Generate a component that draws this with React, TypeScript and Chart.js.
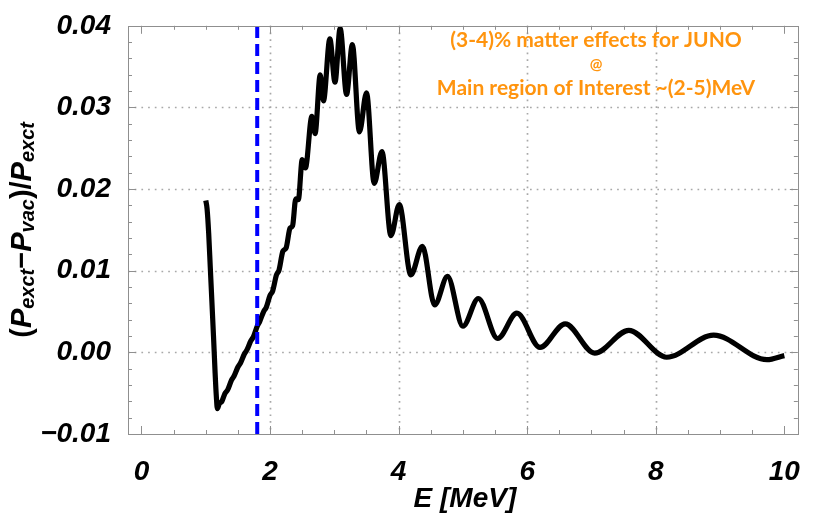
import React, { useEffect, useRef } from "react";
import { Chart, registerables } from "chart.js";

Chart.register(...registerables);

// Neutrino energy (MeV) and relative matter effect (P_exct - P_vac)/P_exct
const energyMeV = [
  1.0, 1.02, 1.045, 1.07, 1.095, 1.12, 1.145, 1.165, 1.18,
  1.21, 1.25, 1.3, 1.34, 1.4, 1.44, 1.5, 1.54, 1.6, 1.64, 1.7, 1.74,
  1.8, 1.84, 1.9, 1.94, 2.0, 2.04, 2.1, 2.14, 2.2, 2.25, 2.31, 2.35,
  2.4, 2.44, 2.5, 2.55, 2.65, 2.7, 2.78, 2.83, 2.93, 3.01, 3.09, 3.19,
  3.28, 3.39, 3.5, 3.62, 3.74, 3.88, 4.01, 4.19, 4.37, 4.56, 4.76, 5.0,
  5.24, 5.54, 5.84, 6.2, 6.59, 7.05, 7.58, 8.17, 8.9, 9.73, 10.0,
];
const relativeEffect = [
  0.0186, 0.0176, 0.0146, 0.0104, 0.0062, 0.002, -0.0025, -0.0055, -0.0069,
  -0.0063, -0.006, -0.005, -0.0046, -0.0034, -0.0029, -0.0018, -0.0013, -0.0002, 0.0003, 0.0014, 0.0019,
  0.0032, 0.0038, 0.005, 0.0055, 0.007, 0.0075, 0.0095, 0.0101, 0.0124, 0.0128, 0.0152, 0.0155,
  0.0188, 0.0187, 0.0236, 0.0226, 0.0289, 0.0268, 0.034, 0.0308, 0.0384, 0.0331, 0.0397, 0.0316,
  0.0377, 0.027, 0.0318, 0.0207, 0.0246, 0.0143, 0.0181, 0.0095, 0.013, 0.0058, 0.0093, 0.0032,
  0.0066, 0.0017, 0.0048, 0.0006, 0.0035, -0.0001, 0.0027, -0.0006, 0.0021, -0.0009, -0.0004,
];

// IBD threshold marker
const thresholdMeV = 1.8;

const xRange = [-0.21, 10.21];
const yRange = [-0.01, 0.04];
const xMajorTicks = [0, 2, 4, 6, 8, 10];
const yMajorTicks = [-0.01, 0, 0.01, 0.02, 0.03, 0.04];
const xGridValues = [2, 4, 6, 8];
const yGridValues = [0, 0.01, 0.02, 0.03];
const xMinorStep = 0.5;
const yMinorStep = 0.002;

const noteLines = [
  "(3-4)% matter effects for JUNO",
  "@",
  "Main region of Interest ~(2-5)MeV",
];

const SANS = "'Liberation Sans', Arial, sans-serif";
const NOTE_FONT = "Lato, 'Open Sans', sans-serif";
const FRAME_COLOR = "#8f8f8f";
const GRID_COLOR = "#a8a8a8";
const NOTE_COLOR = "rgb(255, 148, 14)";

function minorValues(lo: number, hi: number, step: number, majors: number[]) {
  const out: number[] = [];
  const n = Math.round((hi - lo) / step);
  for (let i = 0; i <= n; i++) {
    const v = lo + i * step;
    if (!majors.some((m) => Math.abs(m - v) < step / 10)) out.push(v);
  }
  return out;
}

const framePlugin = {
  id: "mathFrame",
  beforeDatasetsDraw(chart: any) {
    const { ctx, chartArea: a, scales } = chart;
    const x = scales.x;
    const y = scales.y;
    ctx.save();
    ctx.strokeStyle = GRID_COLOR;
    ctx.lineWidth = 1.7;
    ctx.setLineDash([1.7, 5]);
    for (const v of xGridValues) {
      const px = Math.round(x.getPixelForValue(v)) + 0.5;
      ctx.beginPath();
      ctx.moveTo(px, a.top);
      ctx.lineTo(px, a.bottom);
      ctx.stroke();
    }
    for (const v of yGridValues) {
      const py = Math.round(y.getPixelForValue(v)) + 0.5;
      ctx.beginPath();
      ctx.moveTo(a.left, py);
      ctx.lineTo(a.right, py);
      ctx.stroke();
    }
    ctx.restore();
  },
  afterDatasetsDraw(chart: any) {
    const { ctx, chartArea: a, scales } = chart;
    const x = scales.x;
    const y = scales.y;
    ctx.save();
    ctx.strokeStyle = FRAME_COLOR;
    ctx.lineWidth = 1;
    ctx.setLineDash([]);
    ctx.strokeRect(Math.round(a.left) + 0.5, Math.round(a.top) + 0.5,
      Math.round(a.right - a.left), Math.round(a.bottom - a.top));

    const tick = (x0: number, y0: number, x1: number, y1: number) => {
      ctx.beginPath();
      ctx.moveTo(x0, y0);
      ctx.lineTo(x1, y1);
      ctx.stroke();
    };
    const xMinor = minorValues(0, 10, xMinorStep, xMajorTicks);
    const yMinor = minorValues(-0.01, 0.04, yMinorStep, yMajorTicks);
    for (const [vals, len] of [[xMajorTicks, 8], [xMinor, 4]] as [number[], number][]) {
      for (const v of vals) {
        const px = Math.round(x.getPixelForValue(v)) + 0.5;
        tick(px, a.bottom, px, a.bottom - len);
        tick(px, a.top, px, a.top + len);
      }
    }
    for (const [vals, len] of [[yMajorTicks, 8], [yMinor, 4]] as [number[], number][]) {
      for (const v of vals) {
        const py = Math.round(y.getPixelForValue(v)) + 0.5;
        tick(a.left, py, a.left + len, py);
        tick(a.right, py, a.right - len, py);
      }
    }
    ctx.restore();
  },
  afterDraw(chart: any) {
    const { ctx, chartArea: a } = chart;
    ctx.save();
    ctx.fillStyle = "#000";

    // y-axis title with subscripts, rotated
    const big = `italic bold 29px ${SANS}`;
    const bigUp = `bold 29px ${SANS}`;
    const small = `italic bold 20px ${SANS}`;
    const parts: [string, string, number][] = [
      ["(", bigUp, 0], ["P", big, 0], ["exct", small, 3], ["\u2212", bigUp, 0],
      ["P", big, 0], ["vac", small, 3], [")", bigUp, 0], ["/", bigUp, 0],
      ["P", big, 0], ["exct", small, 3],
    ];
    let total = 0;
    for (const [t, f] of parts) {
      ctx.font = f;
      total += ctx.measureText(t).width;
    }
    ctx.translate(0, (a.top + a.bottom) / 2);
    ctx.rotate(-Math.PI / 2);
    ctx.textBaseline = "alphabetic";
    ctx.textAlign = "left";
    let cx = -total / 2;
    for (const [t, f, dy] of parts) {
      ctx.font = f;
      ctx.fillText(t, cx, 31 + dy);
      cx += ctx.measureText(t).width;
    }
    ctx.setTransform(1, 0, 0, 1, 0, 0);

    // x-axis title
    ctx.font = `italic bold 28px ${SANS}`;
    ctx.textAlign = "center";
    ctx.fillText("E [MeV]", (a.left + a.right) / 2 + 2, 507);

    // annotation
    ctx.fillStyle = NOTE_COLOR;
    ctx.font = `bold 21px ${NOTE_FONT}`;
    ctx.fillText(noteLines[0], 596, 47);
    ctx.font = `bold 15px ${NOTE_FONT}`;
    ctx.fillText(noteLines[1], 596, 69);
    ctx.font = `bold 21px ${NOTE_FONT}`;
    ctx.fillText(noteLines[2], 596, 95);
    ctx.restore();
  },
};

export default function App() {
  const canvasRef = useRef<HTMLCanvasElement | null>(null);

  useEffect(() => {
    const canvas = canvasRef.current;
    if (!canvas) return;
    const tickFont = { family: SANS, size: 28, weight: "bold" as const, style: "italic" as const };
    const chart = new Chart(canvas, {
      type: "line",
      data: {
        datasets: [
          {
            label: "threshold",
            data: [
              { x: thresholdMeV, y: yRange[0] },
              { x: thresholdMeV, y: yRange[1] },
            ],
            borderColor: "#0000ff",
            borderWidth: 4,
            borderDash: [12, 6],
            pointRadius: 0,
            tension: 0,
            order: 0,
          },
          {
            label: "ratio",
            data: energyMeV.map((e, i) => ({ x: e, y: relativeEffect[i] })),
            borderColor: "#000000",
            borderWidth: 5.2,
            pointRadius: 0,
            cubicInterpolationMode: "monotone",
            fill: false,
            order: 1,
          },
        ],
      },
      options: {
        animation: false,
        responsive: false,
        maintainAspectRatio: false,
        devicePixelRatio: 1,
        layout: { padding: { left: 0, top: 12, right: 4, bottom: 0 } },
        plugins: {
          legend: { display: false },
          tooltip: { enabled: false },
        },
        scales: {
          x: {
            type: "linear",
            min: xRange[0],
            max: xRange[1],
            grid: { display: false },
            border: { display: false },
            afterBuildTicks: (s: any) => {
              s.ticks = xMajorTicks.map((v) => ({ value: v }));
            },
            afterFit: (s: any) => {
              s.height = 90;
            },
            ticks: {
              color: "#000",
              font: tickFont,
              padding: 13,
              maxRotation: 0,
              autoSkip: false,
              callback: (v: any) => String(v),
            },
          },
          y: {
            type: "linear",
            min: yRange[0],
            max: yRange[1],
            grid: { display: false },
            border: { display: false },
            afterBuildTicks: (s: any) => {
              s.ticks = yMajorTicks.map((v) => ({ value: v }));
            },
            afterFit: (s: any) => {
              s.width = 128;
            },
            ticks: {
              color: "#000",
              font: tickFont,
              padding: 9,
              autoSkip: false,
              callback: (v: any) => Number(v).toFixed(2).replace("-", "\u2212"),
            },
          },
        },
      },
      plugins: [framePlugin],
    });
    return () => chart.destroy();
  }, []);

  return (
    <div style={{ position: "absolute", left: 0, top: 0, width: 813, height: 524, background: "#fff" }}>
      <canvas ref={canvasRef} width={813} height={524} style={{ width: 813, height: 524, display: "block" }} />
    </div>
  );
}
